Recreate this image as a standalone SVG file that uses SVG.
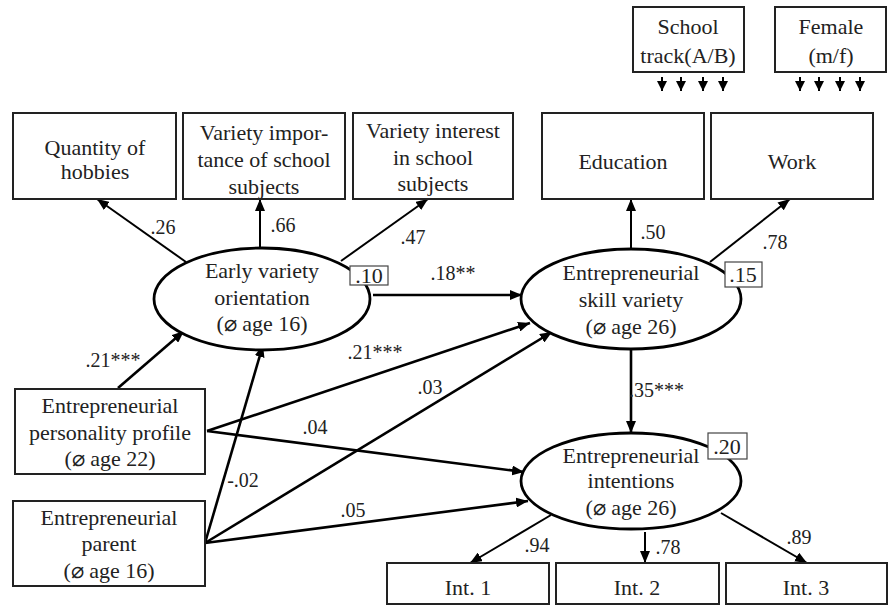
<svg xmlns="http://www.w3.org/2000/svg" width="888" height="605" viewBox="0 0 888 605" font-family="'Liberation Serif', 'Times New Roman', 'DejaVu Serif', serif">
<defs>
<marker id="ah" viewBox="0 0 12 10" refX="12" refY="5" markerWidth="12" markerHeight="10" orient="auto" markerUnits="userSpaceOnUse"><path d="M0,0 L12,5 L0,10 z" fill="#000"/></marker>
<marker id="ahs" viewBox="0 0 10 10" refX="10" refY="5" markerWidth="10" markerHeight="10" orient="auto" markerUnits="userSpaceOnUse"><path d="M0,0 L10,5 L0,10 z" fill="#000"/></marker>
</defs>
<style>
text{font-family:'Liberation Serif','Times New Roman','DejaVu Serif',serif;font-size:22px;fill:#222;text-anchor:middle}
.c text{font-size:20px}
.box{fill:#fff;stroke:#222;stroke-width:2}
.ell{fill:#fff;stroke:#000;stroke-width:2.8}
.val{fill:#fff;stroke:#444;stroke-width:1.2}
.s{stroke:#000;stroke-width:2.6;fill:none;marker-end:url(#ah)}
.l{stroke:#000;stroke-width:2;fill:none;marker-end:url(#ah)}
.m{stroke:#000;stroke-width:2;fill:none;marker-end:url(#ahs)}
.c .lab{text-anchor:start}
</style>
<rect width="888" height="605" fill="#fff"/>

<g id="connectors" class="c">
<line class="l" x1="186" y1="262" x2="97" y2="199"/>
<line class="l" x1="260" y1="247" x2="260" y2="199"/>
<line class="l" x1="341" y1="261" x2="428" y2="199"/>
<line class="l" x1="631" y1="249" x2="631" y2="199"/>
<line class="l" x1="710" y1="262" x2="790" y2="199"/>
<line class="s" x1="373" y1="295" x2="522" y2="295"/>
<line class="s" x1="631" y1="350" x2="631" y2="433"/>
<line class="s" x1="118" y1="388" x2="184" y2="331"/>
<line class="s" x1="207" y1="431" x2="530" y2="323"/>
<line class="s" x1="207" y1="431" x2="524" y2="472"/>
<line class="s" x1="205" y1="543" x2="263" y2="345"/>
<line class="s" x1="205" y1="543" x2="552" y2="332"/>
<line class="s" x1="205" y1="543" x2="528" y2="501"/>
<line class="l" x1="551" y1="515" x2="470" y2="563"/>
<line class="l" x1="645" y1="532" x2="645" y2="563"/>
<line class="l" x1="721" y1="513" x2="807" y2="563"/>
<line class="m" x1="662" y1="77" x2="662" y2="91"/>
<line class="m" x1="681" y1="77" x2="681" y2="91"/>
<line class="m" x1="703" y1="77" x2="703" y2="91"/>
<line class="m" x1="723" y1="77" x2="723" y2="91"/>
<line class="m" x1="800" y1="77" x2="800" y2="91"/>
<line class="m" x1="819" y1="77" x2="819" y2="91"/>
<line class="m" x1="840" y1="77" x2="840" y2="91"/>
<line class="m" x1="860" y1="77" x2="860" y2="91"/>
<text x="163" y="234">.26</text>
<text x="283" y="232">.66</text>
<text x="413" y="244">.47</text>
<text x="453" y="280">.18**</text>
<text x="653" y="239">.50</text>
<text x="775" y="249">.78</text>
<text class="lab" x="629" y="397">.35***</text>
<text x="113" y="367">.21***</text>
<text x="375" y="359">.21***</text>
<text x="430" y="394">.03</text>
<text x="315" y="434">.04</text>
<text x="243" y="487">-.02</text>
<text x="353" y="517">.05</text>
<text x="537" y="552">.94</text>
<text x="668" y="554">.78</text>
<text x="799" y="544">.89</text>
</g>

<g id="school-track"><rect class="box" x="633" y="7" width="111" height="65"/><text x="688" y="34">School</text><text x="688" y="63">track(A/B)</text></g>
<g id="female"><rect class="box" x="775" y="7" width="111" height="65"/><text x="831" y="34">Female</text><text x="831" y="63">(m/f)</text></g>

<g id="hobbies"><rect class="box" x="13" y="113" width="163" height="86"/><text x="95" y="155">Quantity of</text><text x="95" y="179">hobbies</text></g>
<g id="importance"><rect class="box" x="183" y="113" width="162" height="86"/><text x="264" y="140">Variety impor-</text><text x="264" y="167">tance of school</text><text x="264" y="194">subjects</text></g>
<g id="interest"><rect class="box" x="353" y="113" width="160" height="86"/><text x="433" y="138">Variety interest</text><text x="433" y="165">in school</text><text x="433" y="191">subjects</text></g>
<g id="education"><rect class="box" x="542" y="113" width="162" height="86"/><text x="623" y="169">Education</text></g>
<g id="work"><rect class="box" x="711" y="113" width="162" height="86"/><text x="792" y="169">Work</text></g>

<g id="early"><ellipse class="ell" cx="262" cy="299" rx="108" ry="51"/><text x="262" y="278">Early variety</text><text x="262" y="305">orientation</text><text x="262" y="331">(⌀ age 16)</text><rect class="val" x="350" y="266" width="38" height="19"/><text x="369" y="283">.10</text></g>
<g id="skill"><ellipse class="ell" cx="631" cy="299" rx="110" ry="50"/><text x="631" y="280">Entrepreneurial</text><text x="631" y="307">skill variety</text><text x="631" y="334">(⌀ age 26)</text><rect class="val" x="725" y="262" width="37" height="25"/><text x="743" y="282">.15</text></g>
<g id="intentions"><ellipse class="ell" cx="631" cy="481" rx="110" ry="48"/><text x="631" y="463">Entrepreneurial</text><text x="631" y="488">intentions</text><text x="631" y="515">(⌀ age 26)</text><rect class="val" x="708" y="433" width="39" height="26"/><text x="727" y="454">.20</text></g>

<g id="personality"><rect class="box" x="15" y="389" width="190" height="85"/><text x="110" y="413">Entrepreneurial</text><text x="110" y="440">personality profile</text><text x="110" y="466">(⌀ age 22)</text></g>
<g id="parent"><rect class="box" x="13" y="501" width="192" height="85"/><text x="109" y="525">Entrepreneurial</text><text x="109" y="551">parent</text><text x="109" y="578">(⌀ age 16)</text></g>

<g id="int1"><rect class="box" x="387" y="563" width="162" height="41"/><text x="468" y="595">Int. 1</text></g>
<g id="int2"><rect class="box" x="556" y="563" width="163" height="41"/><text x="637" y="595">Int. 2</text></g>
<g id="int3"><rect class="box" x="726" y="563" width="161" height="41"/><text x="806" y="595">Int. 3</text></g>
</svg>
